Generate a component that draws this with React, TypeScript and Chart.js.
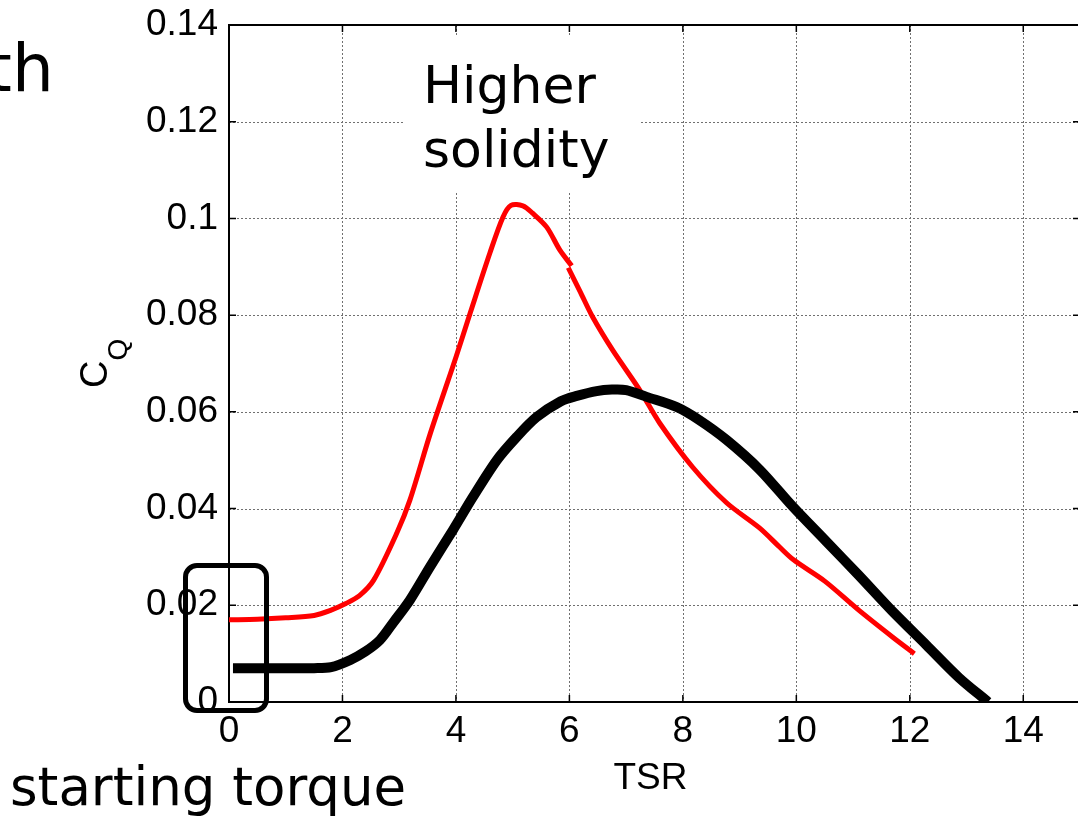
import React, { useEffect, useRef } from "react";
import { Chart, registerables } from "chart.js";

Chart.register(...registerables);

// ---- data ----
const redTsrA = [0, 0.5, 1.0, 1.5, 1.8, 2.05, 2.3, 2.55, 2.96, 3.19, 3.55, 4.0, 4.25, 4.6, 4.83, 4.97, 5.18, 5.35, 5.6, 5.83, 6.04];
const redCqA = [0.017, 0.0171, 0.0174, 0.0179, 0.019, 0.0203, 0.022, 0.0252, 0.035, 0.0418, 0.0556, 0.0713, 0.0804, 0.0929, 0.1003, 0.1027, 0.1026, 0.1011, 0.0982, 0.0935, 0.0902];
const redTsrB = [5.98, 6.2, 6.41, 6.76, 7.24, 7.59, 8.17, 8.77, 9.35, 9.7, 9.95, 10.5, 11.1, 11.7, 12.08];
const redCqB = [0.0898, 0.0846, 0.0796, 0.0728, 0.0645, 0.0577, 0.0486, 0.0412, 0.036, 0.0321, 0.0294, 0.025, 0.019, 0.0134, 0.01];

const blackTsr = [0.07, 0.5, 1.0, 1.5, 1.8, 2.14, 2.4, 2.66, 2.9, 3.19, 3.54, 3.95, 4.3, 4.72, 5.07, 5.42, 5.85, 6.13, 6.48, 6.75, 7.0, 7.36, 7.89, 8.29, 8.77, 9.35, 9.93, 10.52, 11.1, 11.69, 12.29, 12.87, 13.38];
const blackCq = [0.007, 0.007, 0.007, 0.007, 0.0072, 0.0087, 0.0104, 0.0128, 0.0165, 0.0211, 0.0279, 0.0356, 0.0424, 0.05, 0.0548, 0.0589, 0.0622, 0.0633, 0.0643, 0.0646, 0.0645, 0.0631, 0.061, 0.0583, 0.0542, 0.0481, 0.0405, 0.0333, 0.0262, 0.0188, 0.0118, 0.005, 0.0];

const xTickValues = [0, 2, 4, 6, 8, 10, 12, 14];
const xTickLabels = ["0", "2", "4", "6", "8", "10", "12", "14"];
const yTickValues = [0, 0.02, 0.04, 0.06, 0.08, 0.1, 0.12, 0.14];
const yTickLabels = ["0", "0.02", "0.04", "0.06", "0.08", "0.1", "0.12", "0.14"];

const xTitle = "TSR";
const yTitleMain = "C";
const yTitleSub = "Q";

const toPoints = (xs: number[], ys: number[]) => xs.map((x, i) => ({ x, y: ys[i] }));

const TICK_FONT = "Liberation Sans, Arial, sans-serif";

const framePlugin = {
  id: "matlabFrame",
  beforeDatasetsDraw(chart: any) {
    const { ctx, chartArea: a, scales } = chart;
    const x = scales.x;
    const y = scales.y;
    ctx.save();
    // dotted grid
    ctx.strokeStyle = "#707070";
    ctx.lineWidth = 1;
    ctx.setLineDash([2, 2]);
    xTickValues.forEach((v) => {
      if (v <= 0) return;
      const px = Math.round(x.getPixelForValue(v)) + 0.5;
      ctx.beginPath();
      ctx.moveTo(px, a.top);
      ctx.lineTo(px, a.bottom);
      ctx.stroke();
    });
    yTickValues.forEach((v) => {
      if (v <= 0 || v >= 0.14) return;
      const py = Math.round(y.getPixelForValue(v)) + 0.5;
      ctx.beginPath();
      ctx.moveTo(a.left, py);
      ctx.lineTo(a.right, py);
      ctx.stroke();
    });
    ctx.setLineDash([]);
    // inward ticks
    ctx.strokeStyle = "#000";
    ctx.lineWidth = 1.5;
    const tl = 7;
    xTickValues.forEach((v) => {
      const px = x.getPixelForValue(v);
      ctx.beginPath();
      ctx.moveTo(px, a.bottom);
      ctx.lineTo(px, a.bottom - tl);
      ctx.moveTo(px, a.top);
      ctx.lineTo(px, a.top + tl);
      ctx.stroke();
    });
    yTickValues.forEach((v) => {
      const py = y.getPixelForValue(v);
      ctx.beginPath();
      ctx.moveTo(a.left, py);
      ctx.lineTo(a.left + tl, py);
      ctx.moveTo(a.right, py);
      ctx.lineTo(a.right - tl, py);
      ctx.stroke();
    });
    // frame
    ctx.lineWidth = 2;
    ctx.strokeRect(a.left, a.top, a.right - a.left, a.bottom - a.top);
    ctx.restore();
  },
  afterDraw(chart: any) {
    const { ctx, chartArea: a } = chart;
    ctx.save();
    ctx.fillStyle = "#000";
    // x title
    ctx.font = `37px ${TICK_FONT}`;
    ctx.textAlign = "center";
    ctx.textBaseline = "alphabetic";
    ctx.fillText(xTitle, (a.left + a.right) / 2 - 4, 789);
    // y title with subscript
    ctx.translate(107, 388);
    ctx.rotate(-Math.PI / 2);
    ctx.textAlign = "left";
    ctx.font = `38px ${TICK_FONT}`;
    ctx.fillText(yTitleMain, 0, 0);
    const w = ctx.measureText(yTitleMain).width;
    ctx.font = `28px ${TICK_FONT}`;
    ctx.fillText(yTitleSub, w, 20);
    ctx.restore();
  },
};

export default function App() {
  const canvasRef = useRef<HTMLCanvasElement | null>(null);

  useEffect(() => {
    const canvas = canvasRef.current;
    if (!canvas) return;
    const chart = new Chart(canvas, {
      type: "scatter",
      data: {
        datasets: [
          {
            data: toPoints(blackTsr, blackCq),
            showLine: true,
            borderColor: "#000000",
            backgroundColor: "#000000",
            borderWidth: 10,
            pointRadius: 0,
            tension: 0.3,
            borderCapStyle: "butt",
            borderJoinStyle: "round",
          },
          {
            data: toPoints(redTsrA, redCqA),
            showLine: true,
            borderColor: "#ff0000",
            backgroundColor: "#ff0000",
            borderWidth: 5,
            pointRadius: 0,
            tension: 0.3,
            borderCapStyle: "butt",
            borderJoinStyle: "round",
          },
          {
            data: toPoints(redTsrB, redCqB),
            showLine: true,
            borderColor: "#ff0000",
            backgroundColor: "#ff0000",
            borderWidth: 5,
            pointRadius: 0,
            tension: 0.3,
            borderCapStyle: "butt",
            borderJoinStyle: "round",
          },
        ],
      },
      options: {
        responsive: false,
        maintainAspectRatio: false,
        animation: false,
        events: [],
        layout: { padding: { left: 0, right: 20, top: 25, bottom: 0 } },
        plugins: { legend: { display: false }, tooltip: { enabled: false } },
        scales: {
          x: {
            type: "linear",
            min: 0,
            max: 15,
            grid: { display: false, drawTicks: false },
            border: { display: false },
            afterBuildTicks: (s: any) => {
              s.ticks = xTickValues.map((v) => ({ value: v }));
            },
            afterFit: (s: any) => {
              s.height = 115;
              s.paddingLeft = 0;
              s.paddingRight = 0;
            },
            ticks: {
              autoSkip: false,
              maxRotation: 0,
              padding: 11,
              color: "#000",
              font: { family: TICK_FONT, size: 37, lineHeight: 1 },
              callback: (_v: any, i: number) => xTickLabels[i],
            },
          },
          y: {
            type: "linear",
            min: 0,
            max: 0.14,
            grid: { display: false, drawTicks: false },
            border: { display: false },
            afterBuildTicks: (s: any) => {
              s.ticks = yTickValues.map((v) => ({ value: v }));
            },
            afterFit: (s: any) => {
              s.width = 229;
              s.paddingTop = 0;
              s.paddingBottom = 0;
            },
            ticks: {
              autoSkip: false,
              padding: 11,
              color: "#000",
              font: { family: TICK_FONT, size: 37, lineHeight: 1 },
              callback: (_v: any, i: number) => yTickLabels[i],
            },
          },
        },
      },
      plugins: [framePlugin],
    } as any);
    return () => chart.destroy();
  }, []);

  const slideFont = "DejaVu Sans, Verdana, sans-serif";

  return (
    <div
      style={{
        position: "fixed",
        left: 0,
        top: 0,
        width: 1078,
        height: 817,
        overflow: "hidden",
        background: "#fff",
      }}
    >
      <canvas
        ref={canvasRef}
        width={1100}
        height={817}
        style={{ display: "block", position: "absolute", left: 0, top: 0, width: 1100, height: 817 }}
      />
      <div
        style={{
          position: "absolute",
          left: -14,
          top: 36,
          fontFamily: slideFont,
          fontSize: 66,
          lineHeight: 1,
          color: "#000",
          whiteSpace: "pre",
        }}
      >
        th
      </div>
      <div
        style={{
          position: "absolute",
          left: 10,
          top: 760,
          fontFamily: slideFont,
          fontSize: 53,
          lineHeight: 1,
          color: "#000",
          whiteSpace: "pre",
        }}
      >
        starting torque
      </div>
      <div
        style={{
          position: "absolute",
          left: 403,
          top: 35,
          width: 237,
          height: 157,
          background: "#fff",
        }}
      />
      <div
        style={{
          position: "absolute",
          left: 423,
          top: 53,
          fontFamily: slideFont,
          fontSize: 52,
          lineHeight: "64px",
          color: "#000",
          whiteSpace: "pre",
        }}
      >
        {"Higher\nsolidity"}
      </div>
      <div
        style={{
          position: "absolute",
          left: 183,
          top: 563,
          width: 86,
          height: 150,
          boxSizing: "border-box",
          border: "5px solid #000",
          borderRadius: 14,
        }}
      />
    </div>
  );
}
